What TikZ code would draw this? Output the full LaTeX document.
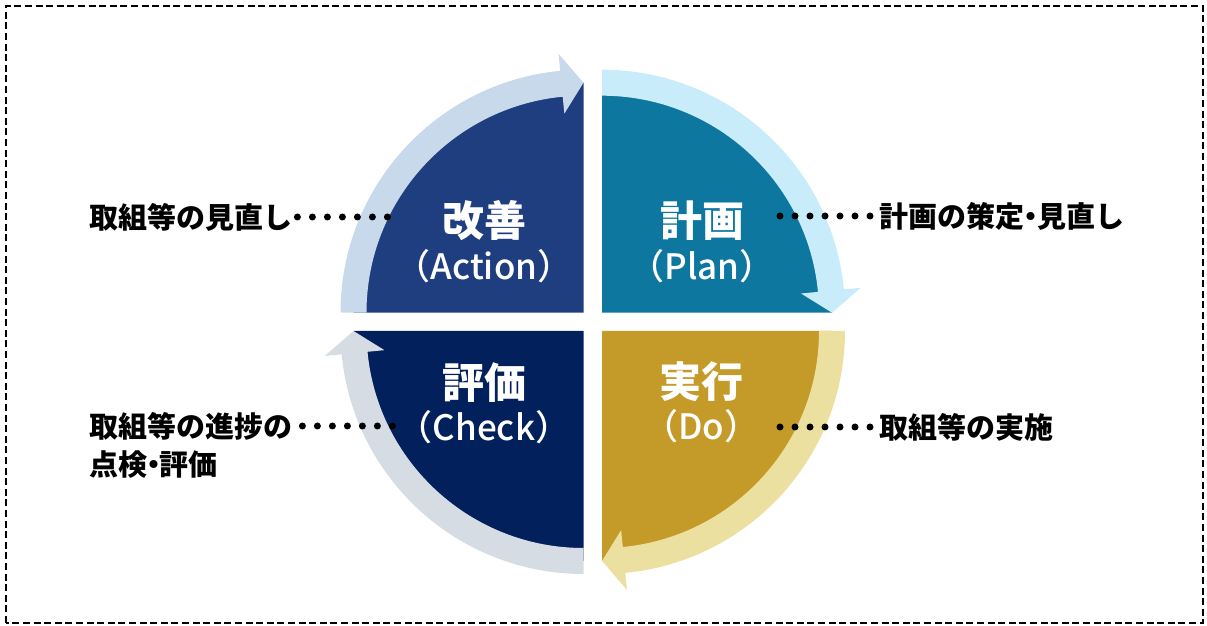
\documentclass[tikz,border=0pt]{standalone}
\usepackage{fontspec}
\newfontfamily\jpfont{Noto Sans CJK JP}
\newfontfamily\jpmedium{Noto Sans CJK JP Medium}

\definecolor{actfill}{HTML}{1F3E80}
\definecolor{actarrow}{HTML}{C9D9EC}
\definecolor{planfill}{HTML}{0E77A0}
\definecolor{planarrow}{HTML}{C9ECFA}
\definecolor{dofill}{HTML}{C49A28}
\definecolor{doarrow}{HTML}{EBE09F}
\definecolor{chkfill}{HTML}{02205C}
\definecolor{chkarrow}{HTML}{D6DCE4}

\newcommand{\nakaguro}{\hspace{-0.28em}・\hspace{-0.28em}}

\begin{document}
\begin{tikzpicture}[
	x=1pt, y=1pt,
	ttl/.style = {text=white, font=\jpfont\bfseries\fontsize{42}{48}\selectfont},
	sub/.style = {text=white, font=\jpmedium\fontsize{35}{40}\selectfont},
	side/.style = {inner sep=0pt, font=\jpfont\bfseries\fontsize{29}{34}\selectfont},
	leader/.style = {line width=7pt, line cap=round, dash pattern=on 0pt off 15pt},
	frame/.style = {line width=2.7pt, dash pattern=on 7pt off 3.6pt}
	]
	\useasboundingbox (0, 0) rectangle (1207, 626);
	
	% === === === Frame === === ===
	\draw[frame] (6, 3) rectangle (1203, 620);
	
	% === === === Quadrants === === ===
	\coordinate (A) at (583.5, 313.3);
	\coordinate (P) at (602, 313.3);
	\coordinate (D) at (602, 295);
	\coordinate (C) at (583.5, 295);
	
	\fill[actfill]	(A) -- ++(180:230) arc[start angle=180, end angle=90, radius=230] -- cycle;
	\fill[planfill]	(P) -- ++(90:230) arc[start angle=90, end angle=0, radius=230] -- cycle;
	\fill[dofill]	(D) -- ++(0:230) arc[start angle=0, end angle=-90, radius=230] -- cycle;
	\fill[chkfill]	(C) -- ++(270:230) arc[start angle=270, end angle=180, radius=230] -- cycle;
	
	% === === === Arrows === === ===
	\fill[actarrow, shift={(A)}] (180:243) arc[start angle=180, end angle=95.5, radius=243]
		-- (95.5:260) -- (90:230) -- (95.5:200) -- (95.5:217)
		arc[start angle=95.5, end angle=180, radius=217] -- cycle;
	\fill[planarrow, shift={(P)}] (90:243) arc[start angle=90, end angle=5.5, radius=243]
		-- (5.5:260) -- (0:230) -- (5.5:200) -- (5.5:217)
		arc[start angle=5.5, end angle=90, radius=217] -- cycle;
	\fill[doarrow, shift={(D)}] (0:243) arc[start angle=0, end angle=-84.5, radius=243]
		-- (-84.5:260) -- (-90:230) -- (-84.5:200) -- (-84.5:217)
		arc[start angle=-84.5, end angle=0, radius=217] -- cycle;
	\fill[chkarrow, shift={(C)}] (270:243) arc[start angle=270, end angle=185.5, radius=243]
		-- (185.5:260) -- (180:230) -- (185.5:200) -- (185.5:217)
		arc[start angle=185.5, end angle=270, radius=217] -- cycle;
	
	% === === === Titles === === ===
	\node[ttl]	(act)		at	(484, 405)	{改善};
	\node[sub]	(actsub)	at	(484, 360)	{（Action）};
	\node[ttl]	(plan)		at	(702, 405)	{計画};
	\node[sub]	(plansub)	at	(702, 360)	{（Plan）};
	\node[ttl]	(chk)		at	(484, 243)	{評価};
	\node[sub]	(chksub)	at	(484, 199)	{（Check）};
	\node[ttl]	(do)		at	(701, 244)	{実行};
	\node[sub]	(dosub)		at	(701, 200)	{（Do）};
	
	% === === === Side labels === === ===
	\node[side, anchor=west]	(actside)	at	(89, 409)	{取組等の見直し};
	\node[side, anchor=west]	(planside)	at	(879, 410)	{計画の策定\nakaguro 見直し};
	\node[side, anchor=west]	(chkside)	at	(89, 200)	{取組等の進捗の};
	\node[side, anchor=west]	(chkside2)	at	([yshift=-39pt]chkside.west)	{点検\nakaguro 評価};
	\node[side, anchor=west]	(doside)	at	(879, 199)	{取組等の実施};
	
	% === === === Leaders === === ===
	\coordinate (actdot)	at	([xshift=95.5pt]actside.east);
	\coordinate (plandot)	at	(779.5, 410);
	\coordinate (chkdot)	at	([xshift=100.5pt]chkside.east);
	\coordinate (dodot)		at	(779.5, 199);
	
	\draw[leader] ([xshift=5pt]actside.east) -- (actdot);
	\draw[leader] ([xshift=-9pt]planside.west) -- (plandot);
	\draw[leader] ([xshift=10pt]chkside.east) -- (chkdot);
	\draw[leader] ([xshift=-9pt]doside.west) -- (dodot);
	
\end{tikzpicture}
\end{document}
